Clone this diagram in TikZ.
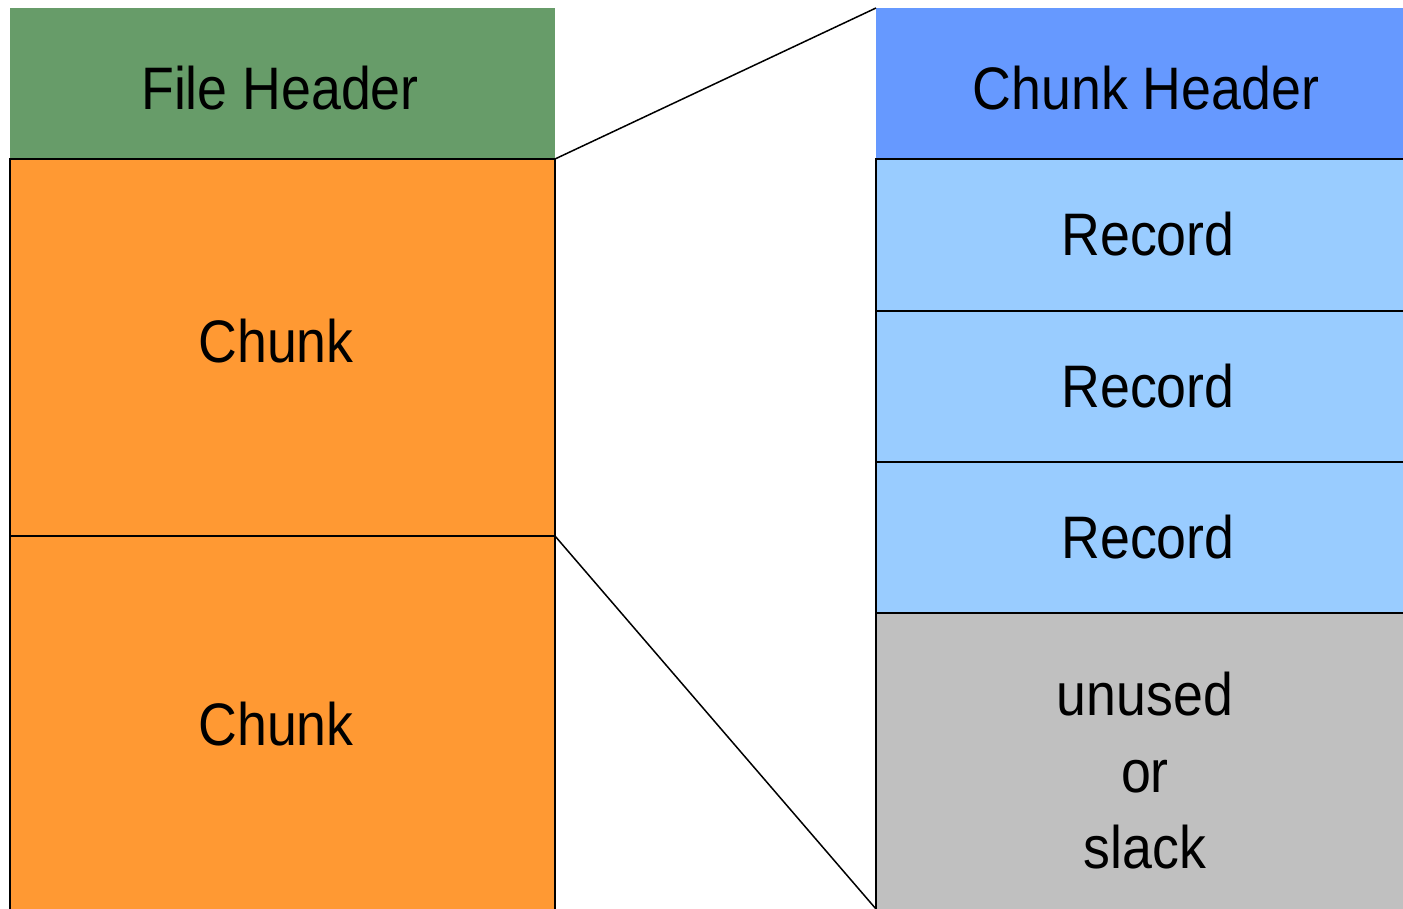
\documentclass[tikz,border=0pt]{standalone}
\usepackage{fontspec}
\setmainfont[FakeStretch=0.895]{Liberation Sans}
\definecolor{fhgreen}{HTML}{679C69}
\definecolor{chorange}{HTML}{FF9933}
\definecolor{hdrblue}{HTML}{6699FF}
\definecolor{recblue}{HTML}{99CCFF}
\definecolor{slackgray}{HTML}{C0C0C0}
\begin{document}
\begin{tikzpicture}[x=1pt,y=-1pt,
  blk/.style={rectangle, inner sep=0pt, outer sep=0pt, anchor=north west},
  framed/.style={blk, draw=black, line width=1.5pt},
  lbl/.style={anchor=base, inner sep=0pt, font=\fontsize{60}{72}\selectfont},
  link/.style={line width=1.5pt}]
\useasboundingbox (0,0) rectangle (1403,909);

% file layout (left column)
\node[blk, fill=fhgreen, minimum width=545pt, minimum height=151pt] (fh) at (10,8) {};
\node[framed, fill=chorange, minimum width=545pt, minimum height=377pt] (c1) at (10,159) {};
\node[framed, fill=chorange, minimum width=545pt, minimum height=385pt] (c2) at (10,536) {};

% chunk layout (right column)
\node[blk, fill=hdrblue, minimum width=535pt, minimum height=151pt] (ch) at (876,8) {};
\node[framed, fill=recblue, minimum width=535pt, minimum height=152pt] (r1) at (876,159) {};
\node[framed, fill=recblue, minimum width=535pt, minimum height=151pt] (r2) at (876,311) {};
\node[framed, fill=recblue, minimum width=535pt, minimum height=151pt] (r3) at (876,462) {};
\node[framed, fill=slackgray, minimum width=535pt, minimum height=305pt] (un) at (876,613) {};

% labels
\node[lbl] (tfh) at (280,110) {File Header};
\node[lbl] (tc1) at (276,362) {Chunk};
\node[lbl] (tc2) at (276,745) {Chunk};
\node[lbl] (tch) at (1146,110) {Chunk Header};
\node[lbl] (tr1) at (1148,256) {Record};
\node[lbl] (tr2) at (1148,407) {Record};
\node[lbl] (tr3) at (1148,558) {Record};
\node[lbl] (tu1) at (1145,715) {unused};
\node[lbl] (tu2) at (1145,792) {or};
\node[lbl] (tu3) at (1145,868) {slack};

% zoom lines from the first chunk to its expanded view
\coordinate (zb) at (876,909);
\draw[link] (c1.north east) -- (ch.north west);
\draw[link] (c1.south east) -- (zb);
\end{tikzpicture}
\end{document}
